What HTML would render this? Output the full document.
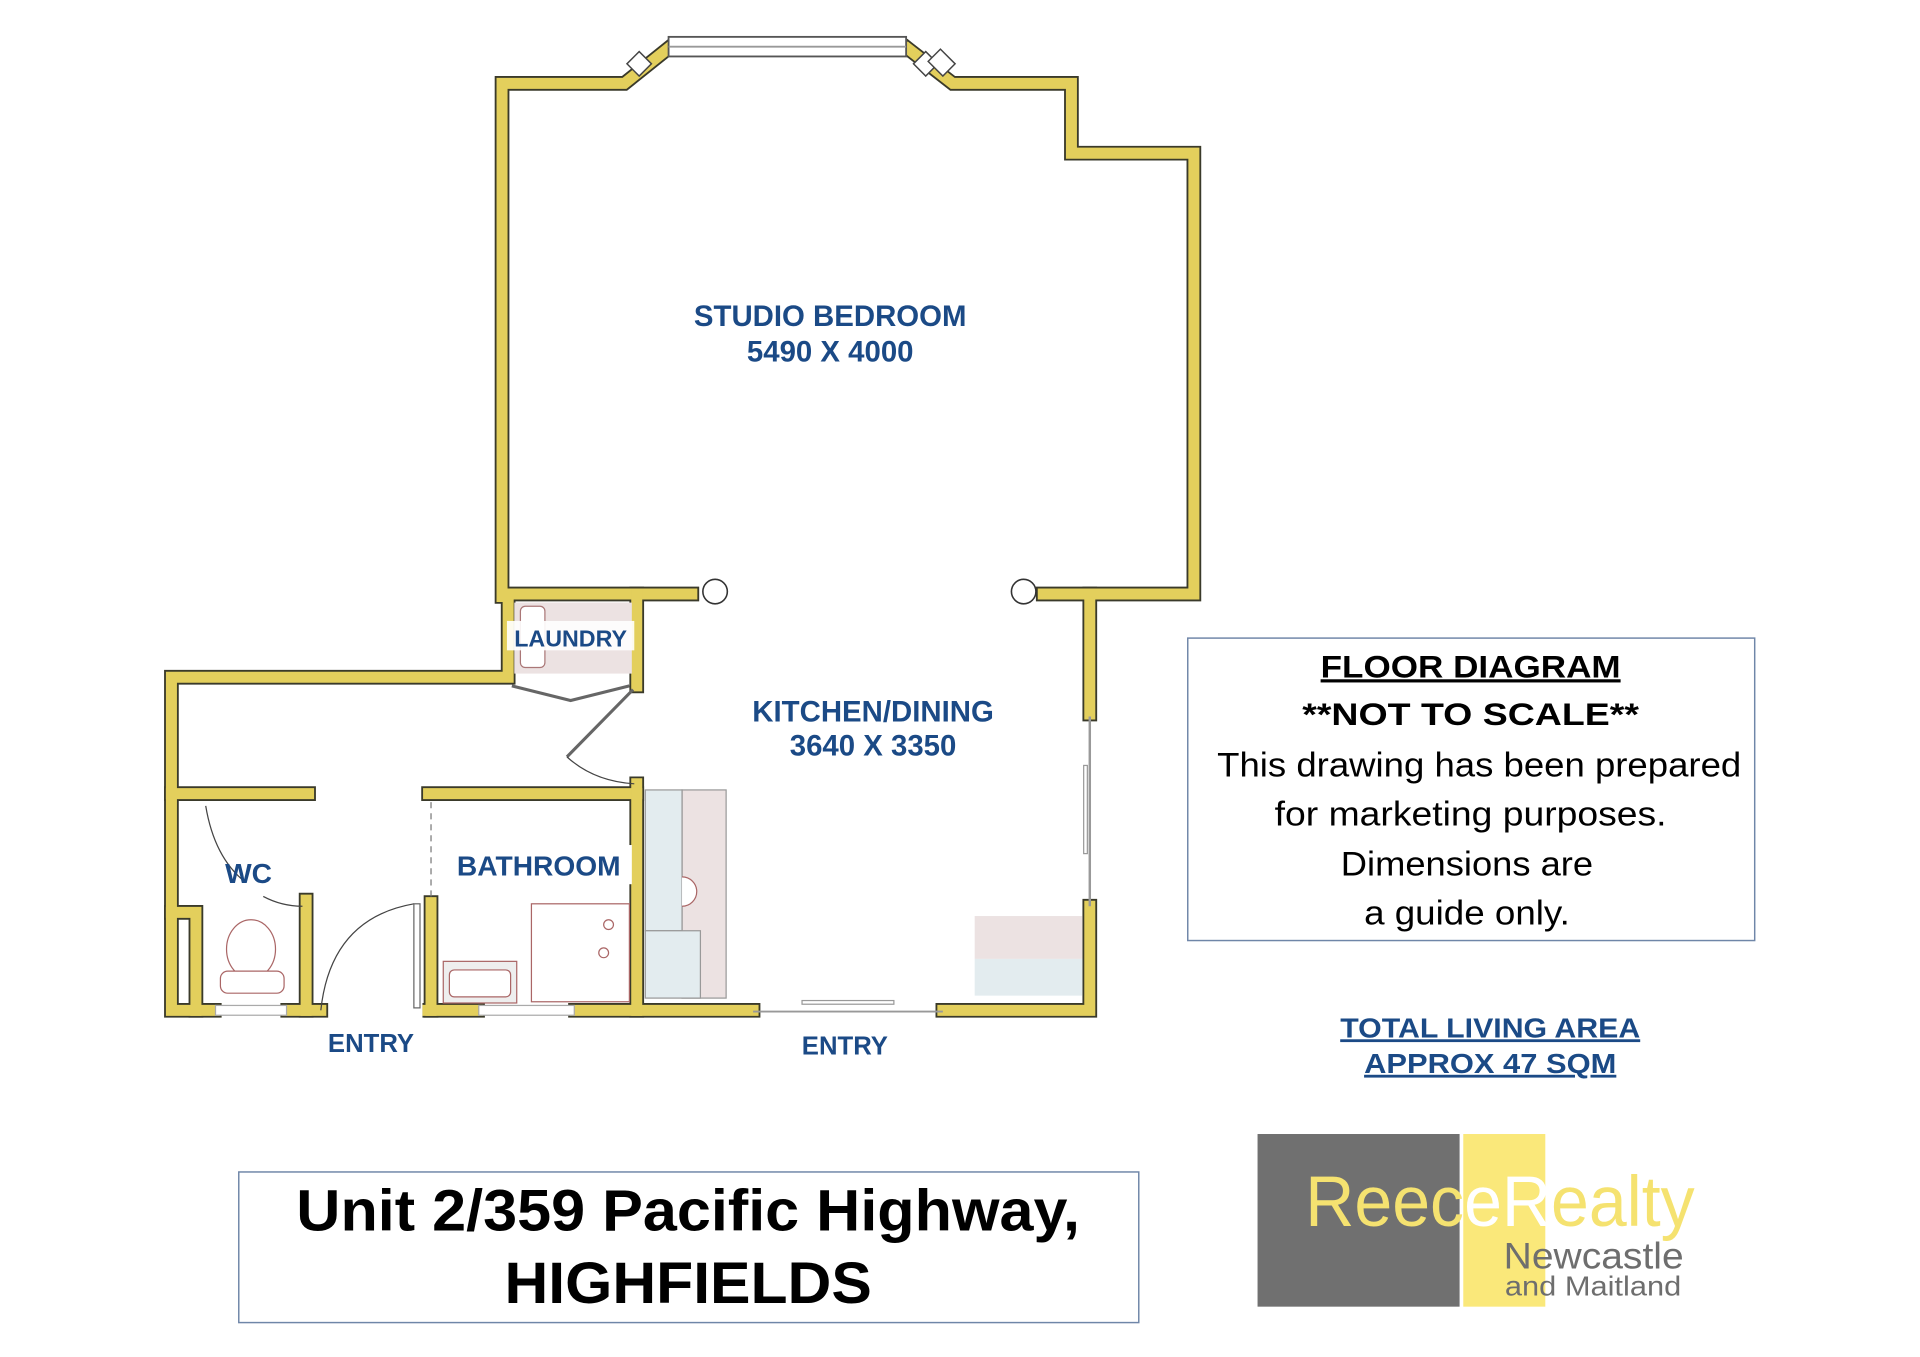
<!DOCTYPE html>
<html><head><meta charset="utf-8"><style>
html,body{margin:0;padding:0;background:#fff;}
svg{display:block}
.w{fill:none;stroke:#3a3a2a;stroke-width:12;stroke-linecap:square;stroke-linejoin:miter}
.wy{fill:none;stroke:#e3cf5c;stroke-width:9;stroke-linecap:square;stroke-linejoin:miter}
.lbl{font-family:"Liberation Sans",sans-serif;font-weight:bold;fill:#1b4a86;text-anchor:middle}
</style></head><body>
<svg width="1920" height="1357" viewBox="0 0 1568 1108" xmlns="http://www.w3.org/2000/svg">
<defs>
<g id="walls">
<polyline points="410,487 410,68 510,68 545,40"/>
<polyline points="742,40 778,68 875,68 875,125 975,125 975,485 852,485"/>
<polyline points="565,485 415,485 415,553 140,553 140,825 175,825"/>
<polyline points="520,485 520,560"/>
<polyline points="890,485 890,583"/>
<polyline points="890,740 890,825 770,825"/>
<polyline points="615,825 470,825"/>
<polyline points="390,825 345,825 352,825"/>
<polyline points="235,825 262,825"/>
<polyline points="140,648 252,648"/>
<polyline points="250,735 250,825"/>
<polyline points="140,745 160,745 160,825"/>
<polyline points="352,737 352,825"/>
<polyline points="350,648 520,648 520,825"/>
<polyline points="520,640 520,648"/>
</g>
</defs>
<g class="w"><use href="#walls"/></g>
<g class="wy"><use href="#walls"/></g>
<!-- bay windows -->
<rect x="546" y="30" width="194" height="16" fill="#fff" stroke="#555" stroke-width="1.5"/>
<line x1="546" y1="38" x2="740" y2="38" stroke="#999" stroke-width="1.5"/>
<polygon points="512,52 522,42 532,52 522,62" fill="#fff" stroke="#444" stroke-width="1.2"/>
<polygon points="756,42 766,52 756,62 746,52" fill="#fff" stroke="#444" stroke-width="1.2"/>
<polygon points="760,46 770,36 782,48 772,58" fill="#fff" stroke="#444" stroke-width="1.2" transform="translate(-2,4)"/>
<!-- columns -->
<circle cx="584" cy="483" r="10" fill="#fff" stroke="#333" stroke-width="1.3"/>
<circle cx="836" cy="483" r="10" fill="#fff" stroke="#333" stroke-width="1.3"/>
<!-- laundry -->
<rect x="420" y="492" width="96" height="58" fill="#ece2e2"/>
<rect x="425" y="495" width="20" height="50" rx="4" fill="#fff" stroke="#a77" stroke-width="1"/>
<polyline points="418,560 466,572 514,560" fill="none" stroke="#666" stroke-width="2.5"/>
<line x1="517" y1="563" x2="463" y2="618" stroke="#666" stroke-width="2.5"/>
<path d="M463,618 Q485,638 518,640" fill="none" stroke="#444" stroke-width="1"/>
<!-- wc -->
<path d="M168,658 Q175,700 200,720" fill="none" stroke="#444" stroke-width="1"/>
<path d="M215,732 Q230,740 247,740" fill="none" stroke="#444" stroke-width="1"/>
<ellipse cx="205" cy="775" rx="20" ry="24" fill="#fff" stroke="#a66" stroke-width="1"/>
<rect x="180" y="793" width="52" height="18" rx="6" fill="#fff" stroke="#a66" stroke-width="1"/>
<rect x="176" y="821" width="58" height="8" fill="#fff" stroke="#aaa" stroke-width="1"/>
<!-- entry door -->
<path d="M262,825 Q270,750 338,738" fill="none" stroke="#444" stroke-width="1"/>
<rect x="338" y="738" width="5" height="85" fill="#fff" stroke="#666" stroke-width="1"/>
<line x1="352" y1="655" x2="352" y2="735" stroke="#777" stroke-width="1" stroke-dasharray="5,4"/>
<!-- bathroom -->
<rect x="434" y="738" width="80" height="80" fill="#fff" stroke="#a66" stroke-width="1"/>
<circle cx="497" cy="755" r="4" fill="none" stroke="#a66"/><circle cx="493" cy="778" r="4" fill="none" stroke="#a66"/>
<rect x="362" y="785" width="60" height="34" fill="#eee" stroke="#a66" stroke-width="1"/>
<rect x="367" y="792" width="50" height="22" rx="4" fill="#fff" stroke="#a66" stroke-width="1"/>
<rect x="391" y="821" width="78" height="8" fill="#fff" stroke="#aaa" stroke-width="1"/>
<!-- kitchen -->
<rect x="557" y="645" width="36" height="170" fill="#ece2e2" stroke="#999" stroke-width="1"/>
<rect x="527" y="645" width="30" height="115" fill="#e3ecef" stroke="#999" stroke-width="1"/>
<rect x="527" y="760" width="45" height="55" fill="#e3ecef" stroke="#999" stroke-width="1"/>
<path d="M557,716 A12,12 0 0 1 557,740" fill="#fff" stroke="#a66" stroke-width="1"/>
<rect x="796" y="748" width="88" height="35" fill="#ece2e2"/>
<rect x="796" y="783" width="88" height="30" fill="#e3ecef"/>
<line x1="890" y1="585" x2="890" y2="740" stroke="#999" stroke-width="2"/>
<rect x="885" y="625" width="3" height="72" fill="#fff" stroke="#999" stroke-width="1"/>
<line x1="615" y1="826" x2="770" y2="826" stroke="#999" stroke-width="1.5"/>
<rect x="655" y="817" width="75" height="3" fill="#fff" stroke="#999" stroke-width="1"/>
<!-- labels -->
<text class="lbl" x="678" y="266" font-size="24">STUDIO BEDROOM</text>
<text class="lbl" x="678" y="295" font-size="24">5490 X 4000</text>
<rect x="414" y="507" width="104" height="24" fill="#fff" opacity="0.9"/>
<text class="lbl" x="466" y="528" font-size="19">LAUNDRY</text>
<text class="lbl" x="713" y="589" font-size="24">KITCHEN/DINING</text>
<text class="lbl" x="713" y="617" font-size="24">3640 X 3350</text>
<rect x="362" y="690" width="154" height="32" fill="#fff"/>
<text class="lbl" x="440" y="715" font-size="23">BATHROOM</text>
<text class="lbl" x="203" y="721" font-size="23">WC</text>
<text class="lbl" x="303" y="859" font-size="21">ENTRY</text>
<text class="lbl" x="690" y="861" font-size="21">ENTRY</text>
<!-- note box -->
<rect x="970" y="521" width="463" height="247" fill="#fff" stroke="#6f86a8" stroke-width="1.2"/>
<g font-family="Liberation Sans,sans-serif" fill="#000" text-anchor="middle">
<text x="1201" y="553" font-size="26" font-weight="bold" text-decoration="underline" textLength="245" lengthAdjust="spacingAndGlyphs">FLOOR  DIAGRAM</text>
<text x="1201" y="592" font-size="26" font-weight="bold" textLength="275" lengthAdjust="spacingAndGlyphs">**NOT  TO  SCALE**</text>
<text x="1208" y="634" font-size="28" textLength="428" lengthAdjust="spacingAndGlyphs">This drawing has been prepared</text>
<text x="1201" y="674" font-size="28" textLength="320" lengthAdjust="spacingAndGlyphs">for marketing purposes.</text>
<text x="1198" y="715" font-size="28" textLength="206" lengthAdjust="spacingAndGlyphs">Dimensions are</text>
<text x="1198" y="755" font-size="28" textLength="168" lengthAdjust="spacingAndGlyphs">a guide only.</text>
</g>
<text class="lbl" x="1217" y="847" font-size="23" text-decoration="underline" textLength="245" lengthAdjust="spacingAndGlyphs">TOTAL LIVING AREA</text>
<text class="lbl" x="1217" y="876" font-size="23" text-decoration="underline" textLength="206" lengthAdjust="spacingAndGlyphs">APPROX 47 SQM</text>
<!-- title -->
<rect x="195" y="957" width="735" height="123" fill="#fff" stroke="#6f86a8" stroke-width="1.2"/>
<g font-family="Liberation Sans,sans-serif" font-weight="bold" fill="#000" text-anchor="middle">
<text x="562" y="1005" font-size="48" textLength="640" lengthAdjust="spacingAndGlyphs">Unit 2/359 Pacific Highway,</text>
<text x="562" y="1064" font-size="48" textLength="300" lengthAdjust="spacingAndGlyphs">HIGHFIELDS</text>
</g>
<!-- logo -->
<rect x="1027" y="926" width="165" height="141" fill="#707070"/>
<rect x="1195" y="926" width="67" height="141" fill="#fae87a"/>
<text x="1066" y="1001" font-family="Liberation Sans,sans-serif" font-size="58" fill="#f5e270" textLength="318" lengthAdjust="spacingAndGlyphs">Reec<tspan fill="#ffffff">eR</tspan>ealty</text>
<text x="1228" y="1036" font-family="Liberation Sans,sans-serif" font-size="30" fill="#6e6e6e" textLength="147" lengthAdjust="spacingAndGlyphs">Newcastle</text>
<text x="1229" y="1058" font-family="Liberation Sans,sans-serif" font-size="23" fill="#6e6e6e" textLength="144" lengthAdjust="spacingAndGlyphs">and Maitland</text>
</svg>
</body></html>
